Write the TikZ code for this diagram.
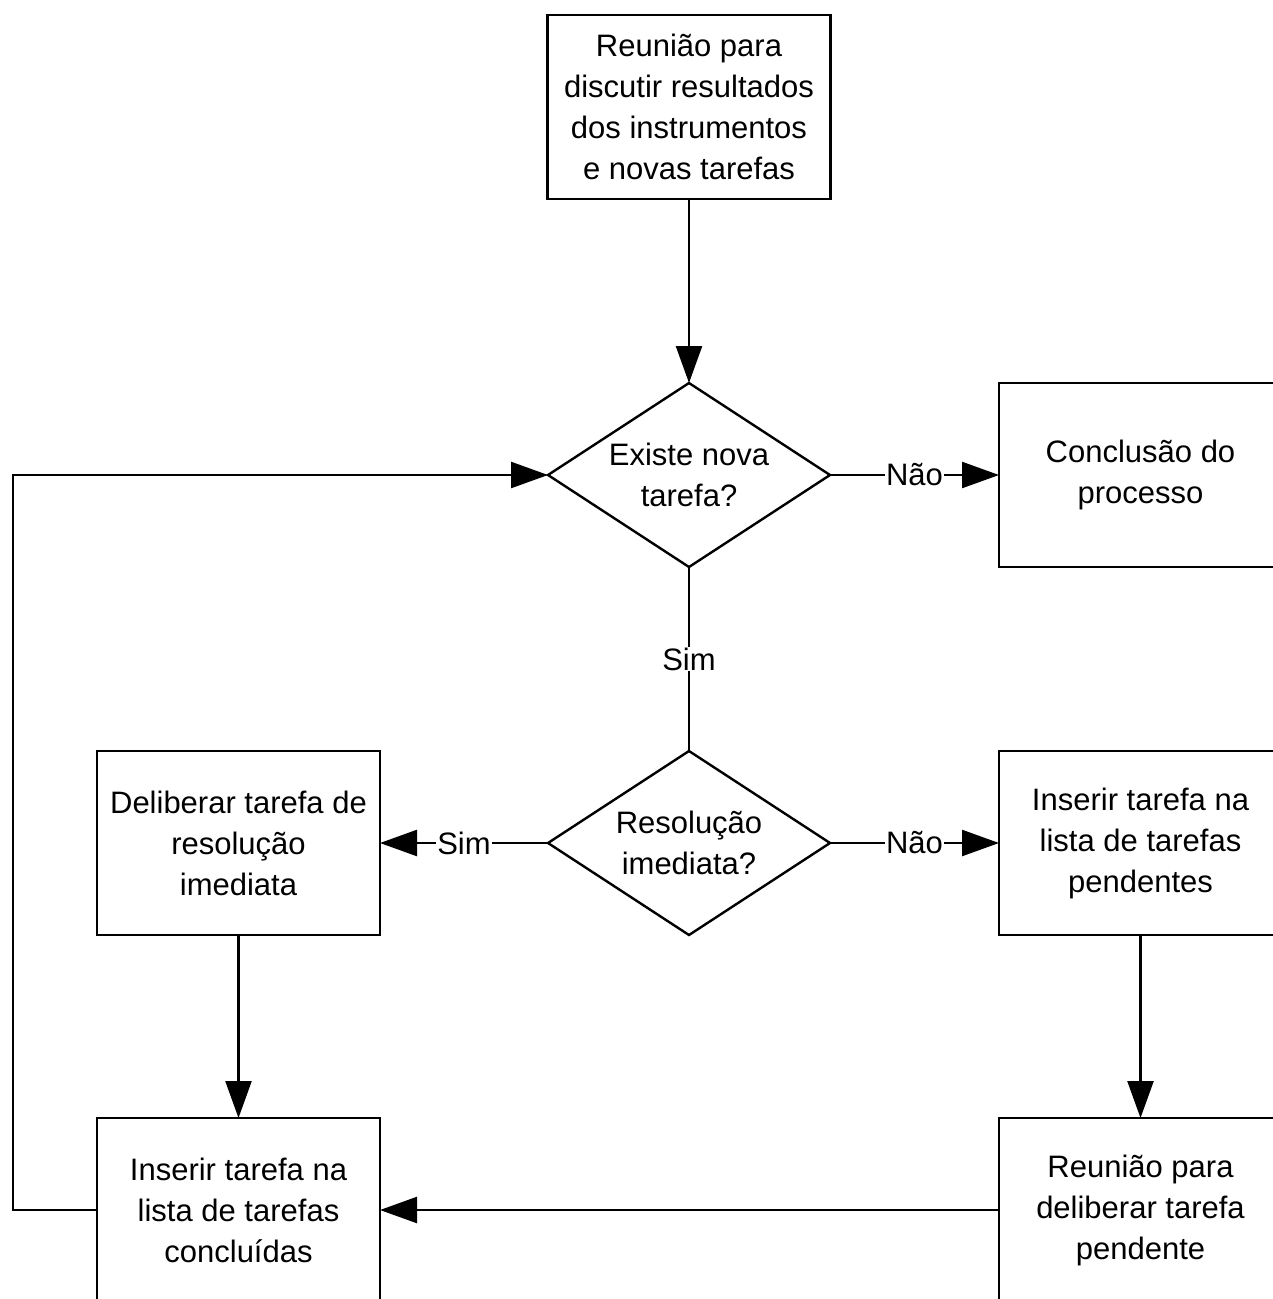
\documentclass[tikz,border=0pt]{standalone}
\usepackage{fontspec}
\setmainfont{Liberation Sans}
\usetikzlibrary{shapes.geometric,arrows.meta}
\begin{document}
\begin{tikzpicture}[x=1pt,y=-1pt,
  every node/.style={font=\fontsize{31}{41}\selectfont},
  box/.style={draw, line width=2.4pt, minimum width=283pt, minimum height=184pt, inner sep=0pt, outer sep=0pt, align=center},
  dia/.style={draw, line width=2.4pt, shape=diamond, minimum width=282pt, minimum height=184pt, inner sep=0pt, outer sep=0pt},
  conn/.style={line width=2.4pt},
  arr/.style={conn, -{Triangle[length=37pt,width=26pt]}},
  lbl/.style={fill=white, inner sep=1pt}
]
\useasboundingbox (0,0) rectangle (1273,1299);
\clip (0,0) rectangle (1273,1299);

\node[box] (b0) at (689,107) {Reunião para\\discutir resultados\\dos instrumentos\\e novas tarefas};
\node[dia, label={[align=center]center:Existe nova\\tarefa?}] (d1) at (689,475) {};
\node[box] (bc) at (1140.5,475) {Conclusão do\\processo};
\node[dia, label={[align=center]center:Resolução\\imediata?}] (d2) at (689,843) {};
\node[box] (bd) at (238.5,843) {Deliberar tarefa de\\resolução\\imediata};
\node[box] (bp) at (1140.5,843) {Inserir tarefa na\\lista de tarefas\\pendentes};
\node[box] (bl) at (238.5,1210) {Inserir tarefa na\\lista de tarefas\\concluídas};
\node[box] (br) at (1140.5,1210) {Reunião para\\deliberar tarefa\\pendente};

\coordinate (c1) at (13,1210);
\coordinate (c2) at (13,475);

\draw[arr] (b0.south) -- (d1.north);
\draw[arr] (d1.east) -- node[lbl] {Não} (bc.west);
\draw[conn] (d1.south) -- node[lbl] {Sim} (d2.north);
\draw[arr] (d2.west) -- node[lbl] {Sim} (bd.east);
\draw[arr] (d2.east) -- node[lbl] {Não} (bp.west);
\draw[arr] (bd.south) -- (bl.north);
\draw[arr] (bp.south) -- (br.north);
\draw[arr] (br.west) -- (bl.east);
\draw[arr] (bl.west) -- (c1) -- (c2) -- (d1.west);
\end{tikzpicture}
\end{document}
